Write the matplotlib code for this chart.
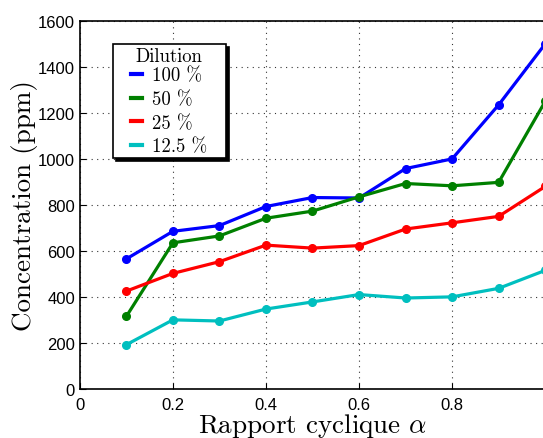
import matplotlib

matplotlib.use("Agg")

import matplotlib.pyplot as plt
from matplotlib.legend_handler import HandlerLine2D

# data
alpha = [0.1, 0.2, 0.3, 0.4, 0.5, 0.6, 0.7, 0.8, 0.9, 1.0]
conc_100 = [565, 685, 710, 793, 832, 830, 958, 1000, 1235, 1500]
conc_50 = [315, 635, 665, 742, 773, 835, 893, 883, 898, 1250]
conc_25 = [425, 502, 553, 625, 612, 623, 695, 722, 750, 880]
conc_12 = [192, 300, 295, 347, 378, 410, 395, 400, 437, 515]
labels = ["100 %", "50 %", "25 %", "12.5 %"]
colors = ["#0000ff", "#008000", "#ff0000", "#00bfbf"]
xticks = [0, 0.2, 0.4, 0.6, 0.8]
xticklabels = ["0", "0.2", "0.4", "0.6", "0.8"]


class IndentedLine(HandlerLine2D):
    # short legend stroke pushed to the right inside its handle box
    shift = 10.8

    def create_artists(self, legend, orig_handle, xdescent, ydescent, width, height, fontsize, trans):
        return super().create_artists(
            legend, orig_handle, xdescent - self.shift, ydescent, width - self.shift, height, fontsize, trans
        )


plt.rcParams["mathtext.fontset"] = "cm"
plt.rcParams["font.family"] = ["Liberation Sans", "DejaVu Sans"]

fig = plt.figure(figsize=(5.43, 4.39), dpi=100)
ax = fig.add_axes([0.147, 0.112, 0.857, 0.838])

for ys, lab, col in zip([conc_100, conc_50, conc_25, conc_12], labels, colors):
    ax.plot(alpha, ys, color=col, linewidth=2.3, marker="o", markersize=5.5, label=lab)

ax.set_xlim(0, 1)
ax.set_ylim(0, 1600)
ax.set_xticks(xticks)
ax.set_xticklabels(xticklabels)
ax.set_yticks(range(0, 1601, 200))
ax.tick_params(direction="in", labelsize=12, length=4, width=0.8)
ax.tick_params(axis="x", pad=6)
ax.grid(True, linestyle=(0, (1, 4)), color="black", linewidth=0.8, alpha=0.8)
for sp in ax.spines.values():
    sp.set_linewidth(1.2)

ax.set_xlabel(r"Rapport cyclique $\alpha$", fontfamily="cmr10", fontsize=19.5, labelpad=-1)
ax.set_ylabel("Concentration (ppm)", fontfamily="cmr10", fontsize=19.5, labelpad=0)

leg = ax.legend(
    loc="upper left",
    bbox_to_anchor=(0.071, 0.9375),
    title="Dilution",
    prop={"family": "cmr10", "size": 13.5},
    title_fontproperties={"family": "cmr10", "size": 13.5, "weight": "bold"},
    handlelength=1.39,
    handletextpad=0.53,
    labelspacing=0.3,
    frameon=True,
    fancybox=False,
    shadow={"color": "black", "alpha": 1.0, "ox": 2, "oy": -2},
    borderpad=0.15,
    borderaxespad=0,
    handler_map={plt.Line2D: IndentedLine()},
)
for h in leg.legend_handles:
    h.set_marker("")
    h.set_linewidth(3)
leg.get_frame().set_edgecolor("black")
leg.get_frame().set_linewidth(1.2)
# widen the entries box (pixels, extra room on the right) and pull entries up to the title
leg._legend_handle_box.width = 107.4
leg._legend_box.sep = 1.5

fig.savefig("out.png", dpi=100)
